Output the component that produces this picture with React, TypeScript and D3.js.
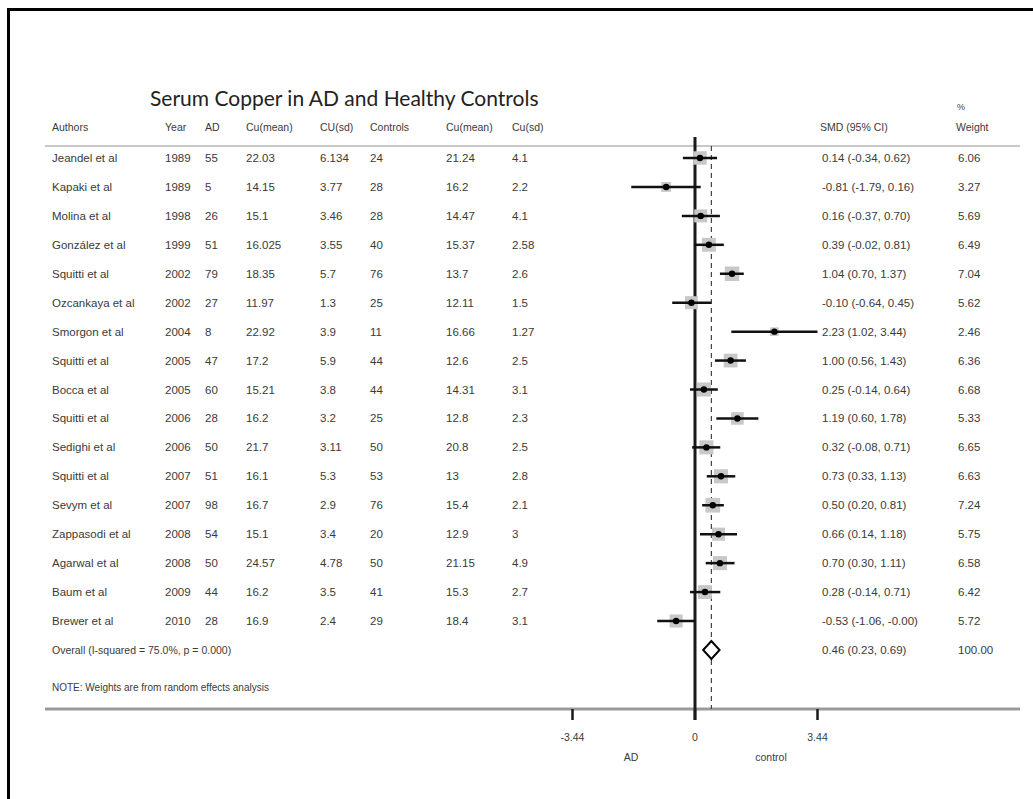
import React from "react";
import * as d3 from "d3";

const authors = ["Jeandel et al","Kapaki et al","Molina et al","González et al","Squitti et al","Ozcankaya et al","Smorgon et al","Squitti et al","Bocca et al","Squitti et al","Sedighi et al","Squitti et al","Sevym et al","Zappasodi et al","Agarwal et al","Baum et al","Brewer et al"];
const years = ["1989","1989","1998","1999","2002","2002","2004","2005","2005","2006","2006","2007","2007","2008","2008","2009","2010"];
const adN = ["55","5","26","51","79","27","8","47","60","28","50","51","98","54","50","44","28"];
const adMean = ["22.03","14.15","15.1","16.025","18.35","11.97","22.92","17.2","15.21","16.2","21.7","16.1","16.7","15.1","24.57","16.2","16.9"];
const adSd = ["6.134","3.77","3.46","3.55","5.7","1.3","3.9","5.9","3.8","3.2","3.11","5.3","2.9","3.4","4.78","3.5","2.4"];
const ctrlN = ["24","28","28","40","76","25","11","44","44","25","50","53","76","20","50","41","29"];
const ctrlMean = ["21.24","16.2","14.47","15.37","13.7","12.11","16.66","12.6","14.31","12.8","20.8","13","15.4","12.9","21.15","15.3","18.4"];
const ctrlSd = ["4.1","2.2","4.1","2.58","2.6","1.5","1.27","2.5","3.1","2.3","2.5","2.8","2.1","3","4.9","2.7","3.1"];
const smd = [0.14,-0.81,0.16,0.39,1.04,-0.10,2.23,1.00,0.25,1.19,0.32,0.73,0.50,0.66,0.70,0.28,-0.53];
const ciLow = [-0.34,-1.79,-0.37,-0.02,0.70,-0.64,1.02,0.56,-0.14,0.60,-0.08,0.33,0.20,0.14,0.30,-0.14,-1.06];
const ciHigh = [0.62,0.16,0.70,0.81,1.37,0.45,3.44,1.43,0.64,1.78,0.71,1.13,0.81,1.18,1.11,0.71,-0.004];
const weights = ["6.06","3.27","5.69","6.49","7.04","5.62","2.46","6.36","6.68","5.33","6.65","6.63","7.24","5.75","6.58","6.42","5.72"];
const overall = { est: 0.46, lo: 0.23, hi: 0.69, weight: "100.00", label: "Overall  (I-squared = 75.0%, p = 0.000)" };
const tickValues = [-3.44, 0, 3.44];
const tickLabels = ["-3.44", "0", "3.44"];
const headers = ["Authors","Year","AD","Cu(mean)","CU(sd)","Controls","Cu(mean)","Cu(sd)"];
const title = "Serum Copper in AD and Healthy Controls";
const note = "NOTE: Weights are from random effects analysis";

const fmt = (v: number) => (v < 0 ? "-" : "") + Math.abs(v).toFixed(2);

export default function App() {
  const W = 1033, H = 799;
  const x = d3.scaleLinear().domain([-3.44, 3.44]).range([572.5, 817.5]);
  const rowY = d3.scaleLinear().domain([0, 16]).range([158, 621]);
  const overallY = 650;
  const colX = [52, 165, 205, 246, 320, 370, 446, 512];
  const smdX = 822, wX = 958;
  const txt = "#3a3a3a";
  const fs = 11.5;
  const font = "'Liberation Sans', Arial, sans-serif";
  const boxSide = (w: number) => 5.46 * Math.sqrt(w);
  const cols = [years, adN, adMean, adSd, ctrlN, ctrlMean, ctrlSd];
  const x0 = x(0), xo = x(overall.est);
  const topLine = 146, botLine = 709;
  return (
    <svg width={W} height={H} style={{ position: "absolute", left: 0, top: 0, background: "#fff" }}>
      <rect x={0} y={0} width={W} height={H} fill="#fff" />
      <rect x={8.5} y={9.5} width={W + 20} height={H + 20} fill="none" stroke="#000" strokeWidth={3} />
      <text x={150} y={106} fontFamily="Lato, 'Open Sans', sans-serif" fontSize={21} fill="#222">{title}</text>
      <text x={957} y={110} fontFamily={font} fontSize={9} fill={txt}>%</text>
      {headers.map((h, i) => (
        <text key={"h" + i} x={colX[i]} y={131} fontFamily={font} fontSize={10.5} fill={txt}>{h}</text>
      ))}
      <text x={smdX - 2} y={131} fontFamily={font} fontSize={10.5} fill={txt}>SMD (95% CI)</text>
      <text x={wX - 2} y={131} fontFamily={font} fontSize={10.5} fill={txt}>Weight</text>
      <line x1={45} x2={1020} y1={topLine} y2={topLine} stroke="#c8c8c8" strokeWidth={2} />
      <line x1={45} x2={1020} y1={botLine} y2={botLine} stroke="#9a9a9a" strokeWidth={3} />
      {/* dashed overall line */}
      <line x1={xo} x2={xo} y1={topLine} y2={overallY - 10} stroke="#444" strokeWidth={1.2} strokeDasharray="5,4" />
      <line x1={xo} x2={xo} y1={overallY + 10} y2={botLine} stroke="#444" strokeWidth={1.2} strokeDasharray="5,4" />
      {/* zero line */}
      <line x1={x0} x2={x0} y1={137} y2={720} stroke="#1a1a1a" strokeWidth={3} />
      {tickValues.map((t, i) => (
        <g key={"t" + i}>
          <line x1={x(t)} x2={x(t)} y1={botLine} y2={720} stroke="#1a1a1a" strokeWidth={2.5} />
          <text x={x(t)} y={741} textAnchor="middle" fontFamily={font} fontSize={10.5} fill={txt}>{tickLabels[i]}</text>
        </g>
      ))}
      <text x={631} y={761} textAnchor="middle" fontFamily={font} fontSize={10.5} fill={txt}>AD</text>
      <text x={771} y={761} textAnchor="middle" fontFamily={font} fontSize={10.5} fill={txt}>control</text>
      {authors.map((a, i) => {
        const y = rowY(i);
        const s = boxSide(+weights[i]);
        return (
          <g key={"r" + i}>
            <text x={colX[0]} y={y + 4} fontFamily={font} fontSize={fs} fill={txt}>{a}</text>
            {cols.map((c, j) => (
              <text key={j} x={colX[j + 1]} y={y + 4} fontFamily={font} fontSize={fs} fill={txt}>{c[i]}</text>
            ))}
            <rect x={x(smd[i]) - s / 2} y={y - s / 2} width={s} height={s} fill="#c8c8c8" />
            <line x1={x(ciLow[i])} x2={x(ciHigh[i])} y1={y} y2={y} stroke="#111" strokeWidth={2.5} />
            <circle cx={x(smd[i])} cy={y} r={3.2} fill="#000" />
            <text x={smdX} y={y + 4} fontFamily={font} fontSize={fs} fill={txt}>{`${fmt(smd[i])} (${fmt(ciLow[i])}, ${fmt(ciHigh[i])})`}</text>
            <text x={wX} y={y + 4} fontFamily={font} fontSize={fs} fill={txt}>{weights[i]}</text>
          </g>
        );
      })}
      <text x={colX[0]} y={overallY + 4} fontFamily={font} fontSize={10.5} fill={txt}>{overall.label}</text>
      <path d={`M${x(overall.lo)},${overallY} L${xo},${overallY - 9} L${x(overall.hi)},${overallY} L${xo},${overallY + 9} Z`} fill="#fff" stroke="#000" strokeWidth={2} />
      <text x={smdX} y={overallY + 4} fontFamily={font} fontSize={fs} fill={txt}>{`${fmt(overall.est)} (${fmt(overall.lo)}, ${fmt(overall.hi)})`}</text>
      <text x={wX} y={overallY + 4} fontFamily={font} fontSize={fs} fill={txt}>{overall.weight}</text>
      <text x={colX[0]} y={691} fontFamily={font} fontSize={10} fill={txt}>{note}</text>
    </svg>
  );
}
